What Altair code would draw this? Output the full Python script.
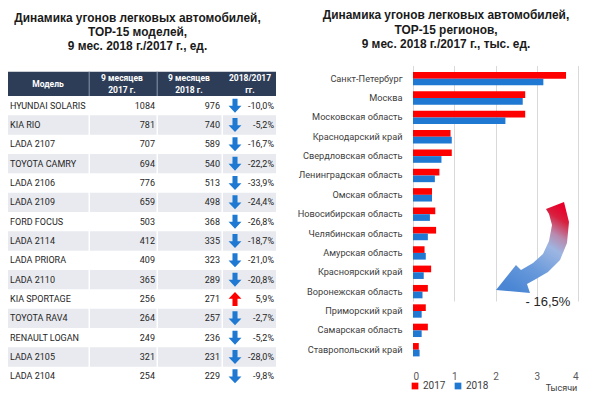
import altair as alt
import pandas as pd

# ---------------- data ----------------
models = ["HYUNDAI SOLARIS", "KIA RIO", "LADA 2107", "TOYOTA CAMRY", "LADA 2106",
          "LADA 2109", "FORD FOCUS", "LADA 2114", "LADA PRIORA", "LADA 2110",
          "KIA SPORTAGE", "TOYOTA RAV4", "RENAULT LOGAN", "LADA 2105", "LADA 2104"]
thefts_2017 = [1084, 781, 707, 694, 776, 659, 503, 412, 409, 365, 256, 264, 249, 321, 254]
thefts_2018 = [976, 740, 589, 540, 513, 498, 368, 335, 323, 289, 271, 257, 236, 231, 229]
change_pct = [-10.0, -5.2, -16.7, -22.2, -33.9, -24.4, -26.8, -18.7, -21.0, -20.8,
              5.9, -2.7, -5.2, -28.0, -9.8]
header_labels = ["Модель", "9 месяцев\n2017 г.", "9 месяцев\n2018 г.", "2018/2017\nгг."]

regions = ["Санкт-Петербург", "Москва", "Московская область", "Краснодарский край",
           "Свердловская область", "Ленинградская область", "Омская область",
           "Новосибирская область", "Челябинская область", "Амурская область",
           "Красноярский край", "Воронежская область", "Приморский край",
           "Самарская область", "Ставропольский край"]
region_2017 = [3.71, 2.72, 2.72, 0.91, 0.94, 0.64, 0.46, 0.54, 0.56, 0.28, 0.44, 0.36, 0.31, 0.36, 0.14]
region_2018 = [3.16, 2.66, 2.24, 0.94, 0.69, 0.53, 0.46, 0.41, 0.36, 0.31, 0.26, 0.23, 0.21, 0.21, 0.16]
years = ["2017", "2018"]
total_change = "- 16,5%"
axis_ticks = [0, 1, 2, 3, 4]

title_left = "Динамика угонов легковых автомобилей,\nTOP-15 моделей,\n9 мес. 2018 г./2017 г., ед."
title_right = "Динамика угонов легковых автомобилей,\nTOP-15 регионов,\n9 мес. 2018 г./2017 г., тыс. ед."

# ---------------- styles / layout ----------------
NAVY = "#2E3D57"
GREY = "#E8EAEF"
BLUE = "#1F78D1"
RED = "#FF0000"
TXT = "#262626"
TITLE_FONT = dict(font="Liberation Sans", fontSize=11.9, fontWeight="bold", color="#1a1a1a",
                  lineBreak="\n", baseline="middle", align="center")

# left table geometry
TW, TH = 268, 378
HEAD_TOP, HEAD_BOT = 63.7, 88
col_edges = [(0, 80.5), (82, 148.5), (150, 213.5), (215, 268)]
head_x = [40, 114, 181, 242]

df_t = pd.DataFrame({
    "model": models,
    "y2017": thefts_2017,
    "y2018": thefts_2018,
    "pct": change_pct,
    "idx": list(range(len(models))),
})
df_t["pct_label"] = [f"{p:.1f}%".replace(".", ",") for p in change_pct]

yscale = alt.Scale(domain=models, range=[HEAD_BOT, TH], paddingInner=0, paddingOuter=0)
Yrow = alt.Y("model:N", scale=yscale, axis=None)

base = alt.Chart(df_t)
layers = []
for a, b in col_edges:
    layers.append(
        base.transform_filter("datum.idx % 2 == 1")
        .mark_rect(color=GREY)
        .encode(y=Yrow, x=alt.value(a), x2=alt.value(b))
    )

hdr = alt.Chart(pd.DataFrame({"label": header_labels, "pos": list(range(4))}))
layers.append(
    hdr.transform_filter("datum.pos == 0").mark_rect(color=NAVY)
    .encode(x=alt.value(0), x2=alt.value(TW), y=alt.value(HEAD_TOP), y2=alt.value(HEAD_BOT))
)
for xv in [81.2, 149.2]:
    layers.append(
        hdr.transform_filter("datum.pos == 0").mark_rule(color="#8A97AD", strokeWidth=1)
        .encode(x=alt.value(xv), y=alt.value(HEAD_TOP), y2=alt.value(HEAD_BOT))
    )
for i, xv in enumerate(head_x):
    yv = (HEAD_TOP + HEAD_BOT) / 2 if i == 0 else HEAD_TOP + 6
    layers.append(
        hdr.transform_filter(f"datum.pos == {i}")
        .mark_text(font="Roboto", fontSize=8.5, fontWeight="bold", color="white",
                   lineBreak="\n", lineHeight=12, baseline="middle", align="center")
        .encode(text="label:N", x=alt.value(xv), y=alt.value(yv))
    )

txt = dict(font="Roboto", fontSize=9, color=TXT, baseline="middle")
layers.append(base.mark_text(align="left", **txt).encode(y=Yrow, x=alt.value(2), text="model:N"))
layers.append(base.mark_text(align="right", **txt).encode(y=Yrow, x=alt.value(147), text="y2017:Q"))
layers.append(base.mark_text(align="right", **txt).encode(y=Yrow, x=alt.value(212), text="y2018:Q"))
layers.append(base.mark_text(align="right", **txt).encode(y=Yrow, x=alt.value(266), text="pct_label:N"))

DOWN = "M-0.36,-1L0.36,-1L0.36,0.02L0.92,0.02L0,1L-0.92,0.02L-0.36,0.02Z"
UP = "M-0.36,1L0.36,1L0.36,-0.02L0.92,-0.02L0,-1L-0.92,-0.02L-0.36,-0.02Z"
layers.append(
    base.transform_filter("datum.pct < 0")
    .mark_point(shape=DOWN, filled=True, size=196, opacity=1, color=BLUE, strokeWidth=0)
    .encode(y=Yrow, x=alt.value(227))
)
layers.append(
    base.transform_filter("datum.pct > 0")
    .mark_point(shape=UP, filled=True, size=196, opacity=1, color=RED, strokeWidth=0)
    .encode(y=Yrow, x=alt.value(227))
)
layers.append(
    alt.Chart(pd.DataFrame({"t": [title_left]}))
    .mark_text(lineHeight=14, **TITLE_FONT)
    .encode(text="t:N", x=alt.value(129.5), y=alt.value(10))
)

left = alt.layer(*layers).properties(width=TW, height=TH)

# ---------------- right chart ----------------
RW, RH = 165, 354
rows = []
for r, v17, v18 in zip(regions, region_2017, region_2018):
    rows.append({"region": r, "year": years[0], "value": v17})
    rows.append({"region": r, "year": years[1], "value": v18})
df_r = pd.DataFrame(rows)

bars = alt.Chart(df_r).mark_bar().encode(
    y=alt.Y("region:N", sort=regions,
            scale=alt.Scale(range=[61, 351.4], paddingInner=0.31, paddingOuter=0.155),
            axis=alt.Axis(title=None, labelFont="Roboto", labelFontSize=9.2, labelColor="#404040",
                          ticks=False, domain=False, labelPadding=11, grid=False, labelLimit=200)),
    yOffset=alt.YOffset("year:N", sort=years, scale=alt.Scale(paddingInner=0, paddingOuter=0)),
    x=alt.X("value:Q", scale=alt.Scale(domain=[0, 4]),
            axis=alt.Axis(values=axis_ticks, format="d", grid=True, gridColor="#D9D9D9",
                          ticks=False, domain=False, labelPadding=9, labelFont="Roboto",
                          labelFontSize=10, labelColor="#595959",
                          title="Тысячи", titleX=148, titleY=25, titleFont="Roboto",
                          titleFontSize=9, titleFontWeight="normal", titleColor="#404040",
                          titleAlign="center", titleBaseline="middle")),
    color=alt.Color("year:N", scale=alt.Scale(domain=years, range=[RED, BLUE]),
                    legend=alt.Legend(title=None, orient="none", legendX=-3, legendY=373,
                                      direction="horizontal", symbolType="square", symbolSize=45,
                                      symbolStrokeWidth=0, labelFont="Roboto", labelFontSize=10,
                                      labelColor="#404040", columnPadding=7, labelOffset=3)),
)

CURVE = ("M0.293,-0.837L0.685,-0.989L0.793,-0.554L0.750,-0.098L0.598,0.272L0.337,0.533"
         "L0.076,0.685L-0.120,0.793L-0.054,0.989L-0.793,0.924L-0.359,0.380L-0.250,0.489"
         "L0.011,0.337L0.228,0.141L0.359,-0.141L0.424,-0.489L0.359,-0.728Z")
gradient = {
    "gradient": "linear", "x1": 0.8, "y1": 0, "x2": 0.3, "y2": 1,
    "stops": [
        {"offset": 0, "color": "#E8002A"},
        {"offset": 0.12, "color": "#D8203F"},
        {"offset": 0.28, "color": "#B88AAE"},
        {"offset": 0.42, "color": "#9DB6E2"},
        {"offset": 0.7, "color": "#6A9ADB"},
        {"offset": 1, "color": "#4A86D4"},
    ],
}
ann_df = pd.DataFrame({"label": [total_change]})
# white band above the bar area so that the grid starts just above the first bar
mask = alt.Chart(ann_df).mark_rect(color="white").encode(
    x=alt.value(-1), x2=alt.value(RW + 2), y=alt.value(0), y2=alt.value(58))
curve = alt.Chart(ann_df).mark_point(shape=CURVE, size=8464, filled=True, opacity=1,
                                     fill=gradient, strokeWidth=0).encode(
    x=alt.value(119.5), y=alt.value(239.5))
note = alt.Chart(ann_df).mark_text(font="Liberation Sans", fontSize=13, color=TXT).encode(
    text="label:N", x=alt.value(135), y=alt.value(294))
rtitle = alt.Chart(pd.DataFrame({"t": [title_right]})).mark_text(lineHeight=14.5, **TITLE_FONT).encode(
    text="t:N", x=alt.value(33), y=alt.value(7))

right = alt.layer(bars, mask, curve, note, rtitle).properties(width=RW, height=RH)

chart = (
    alt.hconcat(left, right, spacing=21)
    .resolve_legend(color="independent")
    .properties(padding=0, background="white")
    .configure_view(stroke=None)
)

chart.save("out.html", embed_options={"renderer": "svg", "actions": False})
